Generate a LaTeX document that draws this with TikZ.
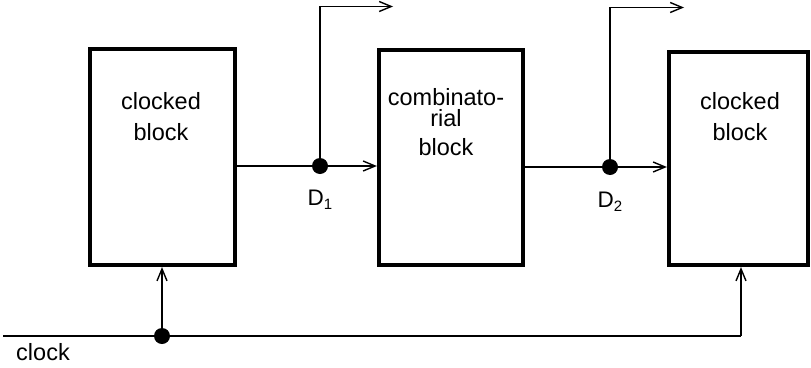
\documentclass[tikz,border=0pt]{standalone}
\usepackage{fontspec}
\setmainfont{Liberation Sans}
\usetikzlibrary{arrows.meta}
\begin{document}
\begin{tikzpicture}[x=1pt,y=-1pt,
  blockbox/.style={draw,line width=4.2pt,rectangle,inner sep=0pt},
  blocktext/.style={align=center,font=\fontsize{23.5}{31}\selectfont,inner sep=0pt},
  wire/.style={line width=1.4pt},
  arr/.style={wire,-{Straight Barb[length=12pt,width=10pt,line width=1.4pt]}},
  junction/.style={circle,fill=black,minimum size=16pt,inner sep=0pt},
  lbl/.style={font=\fontsize{22.5}{22.5}\selectfont,inner sep=0pt}]
\useasboundingbox (0,0) rectangle (811,367);
% blocks
\node[blockbox,minimum width=145pt,minimum height=216pt] (left) at (162.5,157) {};
\node[blockbox,minimum width=144pt,minimum height=215pt] (mid) at (451,157.5) {};
\node[blockbox,minimum width=139pt,minimum height=213pt] (right) at (738.5,158.5) {};
% block texts
\node[blocktext] (lefttxt) at (161,117) {clocked\\block};
\node[blocktext] (midtxt) at (446,122) {combinato-\\[-10pt]rial\\[-2pt]block};
\node[blocktext] (righttxt) at (740,117) {clocked\\block};
% junctions
\node[junction] (d1) at (320,166) {};
\node[junction] (d2) at (610,167) {};
\node[junction] (clk) at (162,336) {};
\coordinate (d1out) at (393,6.5);
\coordinate (d2out) at (684,7.5);
\coordinate (clkin) at (3,336);
\coordinate (clkr) at (741,336);
% wires
\draw[wire] (d1 -| left.east) -- (d1.center);
\draw[arr] (d1.center) -- (d1 -| mid.west);
\draw[arr] (d1.center) |- (d1out);
\draw[wire] (d2 -| mid.east) -- (d2.center);
\draw[arr] (d2.center) -- (d2 -| right.west);
\draw[arr] (d2.center) |- (d2out);
\draw[wire] (clkin) -- (clk.center) -- (clkr);
\draw[arr] (clk.center) -- (clk |- left.south);
\draw[arr] (clkr) -- (clkr |- right.south);
% labels
\node[lbl] (d1lbl) at (320,200) {D\raisebox{-4pt}{\fontsize{15}{15}\selectfont 1}};
\node[lbl] (d2lbl) at (610,202) {D\raisebox{-4pt}{\fontsize{15}{15}\selectfont 2}};
\node[font=\fontsize{23.5}{23.5}\selectfont,inner sep=0pt] (clklbl) at (43,352) {clock};
\end{tikzpicture}
\end{document}
